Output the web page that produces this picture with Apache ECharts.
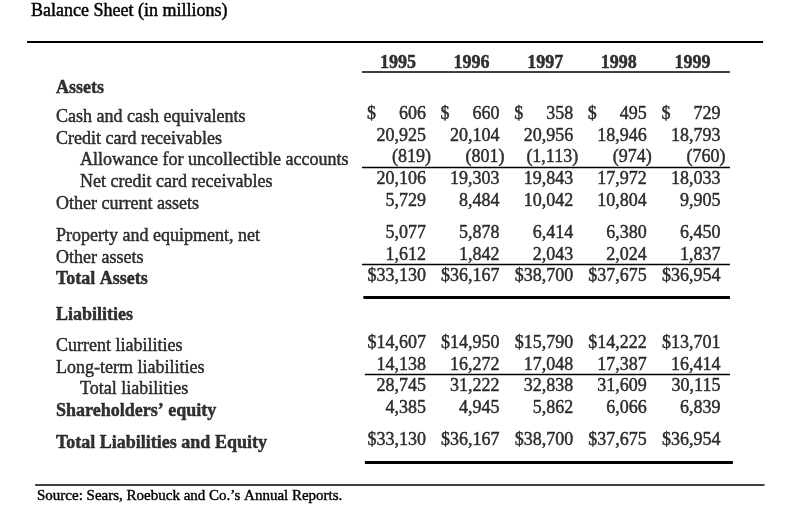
<!DOCTYPE html>
<html>
<head>
<meta charset="utf-8">
<script src="https://cdn.jsdelivr.net/npm/echarts@6/dist/echarts.min.js"></script>
<style>html,body{margin:0;padding:0;background:#fff}#c{width:790px;height:507px}</style>
</head>
<body>
<div id="c"></div>
<script>
// ---- data ----
const years = ['1995', '1996', '1997', '1998', '1999'];
const rowNames = ['Assets', 'Cash and cash equivalents', 'Credit card receivables',
  'Allowance for uncollectible accounts', 'Net credit card receivables', 'Other current assets',
  'Property and equipment, net', 'Other assets', 'Total Assets', 'Liabilities',
  'Current liabilities', 'Long-term liabilities', 'Total liabilities',
  'Shareholders’ equity', 'Total Liabilities and Equity'];
const cashEq = [606, 660, 358, 495, 729];
const creditRec = [20925, 20104, 20956, 18946, 18793];
const allowance = [-819, -801, -1113, -974, -760];
const netCredit = [20106, 19303, 19843, 17972, 18033];
const otherCurrent = [5729, 8484, 10042, 10804, 9905];
const property = [5077, 5878, 6414, 6380, 6450];
const otherAssets = [1612, 1842, 2043, 2024, 1837];
const totalAssets = [33130, 36167, 38700, 37675, 36954];
const currentLiab = [14607, 14950, 15790, 14222, 13701];
const longTermLiab = [14138, 16272, 17048, 17387, 16414];
const totalLiab = [28745, 31222, 32838, 31609, 30115];
const equity = [4385, 4945, 5862, 6066, 6839];
const totalLiabEquity = [33130, 36167, 38700, 37675, 36954];
const rowValues = [null, cashEq, creditRec, allowance, netCredit, otherCurrent, property,
  otherAssets, totalAssets, null, currentLiab, longTermLiab, totalLiab, equity, totalLiabEquity];
const titleText = 'Balance Sheet (in millions)';
const sourceText = 'Source: Sears, Roebuck and Co.’s Annual Reports.';

// ---- layout / style ----
const rowPos = [0.14, 1.5, 2.5, 3.5, 4.5, 5.5, 7, 8, 9, 10.65, 12.1, 13.1, 14.1, 15.1, 16.6];
const rowBold = [1, 0, 0, 0, 0, 0, 0, 0, 1, 1, 0, 0, 0, 1, 1];
const rowIndent = [0, 0, 0, 1, 1, 0, 0, 0, 0, 0, 0, 0, 1, 0, 0];
const rowDollar = ['', 'sep', '', '', '', '', '', '', 'prefix', '', 'prefix', '', '', '', 'prefix'];
const FONT = "'Liberation Serif','Times New Roman',serif";
const INK = '#000';
const labelX = (56 - 398) / 73.6;
const yearPos = -1.02;
const numShiftY = -3;

function fmt(v, prefix) {
  const s = Math.abs(v).toLocaleString('en-US');
  if (v < 0) return '(' + s + ')';
  return (prefix ? '$' : '') + s;
}

const numData = [], dollarData = [], labelData = [];
rowNames.forEach((name, r) => {
  labelData.push({
    value: [labelX, rowPos[r]],
    label: { formatter: name, fontWeight: rowBold[r] ? 'bold' : 'normal', offset: [rowIndent[r] * 24, 0] }
  });
  const vals = rowValues[r];
  if (!vals) return;
  vals.forEach((v, i) => {
    numData.push({
      value: [i, rowPos[r], v],
      label: { formatter: fmt(v, rowDollar[r] === 'prefix'), offset: [v < 0 ? 33 : 28, numShiftY] }
    });
    if (rowDollar[r] === 'sep') dollarData.push({ value: [i, rowPos[r]], label: { formatter: '$' } });
  });
});
const yearData = years.map((y, i) => ({ value: [i, yearPos], label: { formatter: y } }));

function hline(x1, x2, y, w) {
  return [{ coord: [x1, y], lineStyle: { width: w, color: INK, type: 'solid' } }, { coord: [x2, y] }];
}

const baseLabel = { show: true, position: 'inside', fontFamily: FONT, fontSize: 18, color: INK,
  verticalAlign: 'middle', textBorderColor: INK, textBorderWidth: 0.45 };
const chart = echarts.init(document.getElementById('c'));
chart.setOption({
  animation: false,
  backgroundColor: '#fff',
  title: [
    { text: titleText, left: 31, top: 2, padding: 0, textStyle: { fontFamily: FONT, fontSize: 18, fontWeight: 'normal', color: INK, textBorderColor: INK, textBorderWidth: 0.45 } },
    { text: sourceText, left: 37, top: 489, padding: 0, textStyle: { fontFamily: FONT, fontSize: 15, fontWeight: 'normal', color: INK, textBorderColor: INK, textBorderWidth: 0.4 } }
  ],
  grid: { left: 0, right: 0, top: 0, bottom: 0 },
  xAxis: { type: 'value', min: -398 / 73.6, max: 392 / 73.6, show: false },
  yAxis: { type: 'value', inverse: true, min: -85 / 21.6, max: (507 - 85) / 21.6, show: false },
  series: [
    {
      type: 'scatter', symbolSize: 0, data: labelData,
      label: Object.assign({}, baseLabel, { align: 'left' }),
      markLine: {
        silent: true, symbol: ['none', 'none'], label: { show: false },
        data: [
          hline(-5.04, 4.96, -2.01, 2),
          hline(-0.49, 4.51, -0.6, 1.5),
          hline(-0.49, 4.51, 3.82, 1.3),
          hline(-0.49, 4.51, 8.3, 1.3),
          hline(-0.47, 4.51, 9.81, 3),
          hline(-0.45, 4.51, 13.38, 1.3),
          hline(-0.45, 4.55, 17.45, 3),
          hline(-4.93, 4.98, 18.52, 1.5)
        ]
      }
    },
    { type: 'scatter', symbolSize: 0, data: numData, label: Object.assign({}, baseLabel, { align: 'right' }) },
    { type: 'scatter', symbolSize: 0, data: dollarData, label: Object.assign({}, baseLabel, { align: 'left', offset: [-31, numShiftY] }) },
    { type: 'scatter', symbolSize: 0, data: yearData, label: Object.assign({}, baseLabel, { align: 'center', fontWeight: 'bold' }) }
  ]
});
</script>
</body>
</html>
